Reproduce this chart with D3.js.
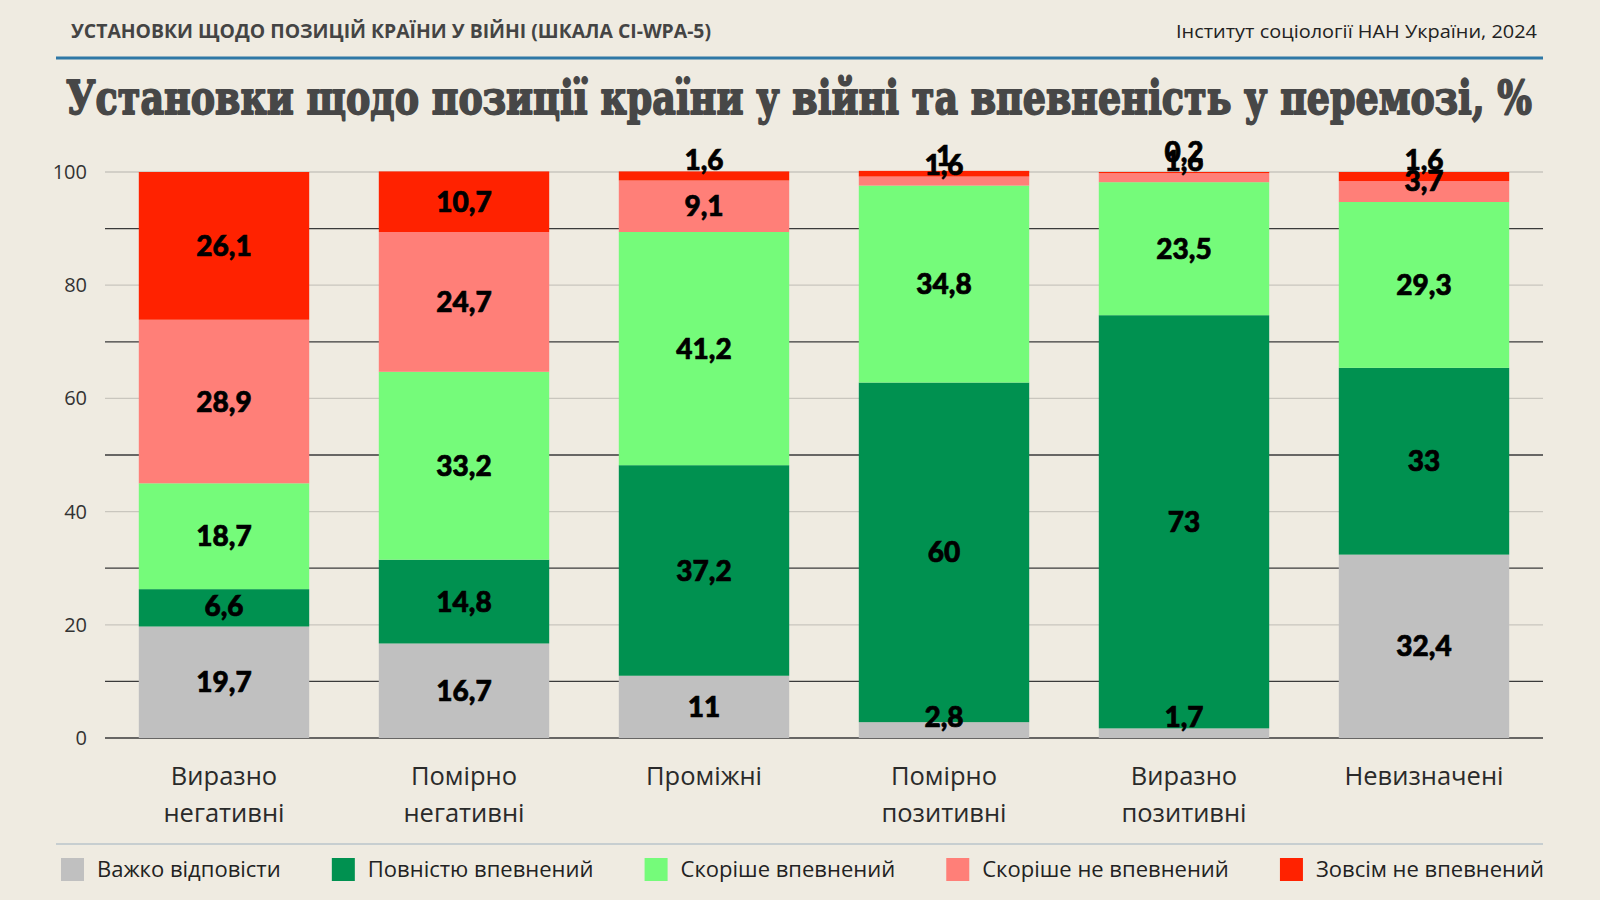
<!DOCTYPE html>
<html>
<head>
<meta charset="utf-8">
<script src="https://cdn.jsdelivr.net/npm/d3@7"></script>
<style>
  html, body { margin: 0; padding: 0; background: #efebe1; }
  svg { display: block; }
</style>
</head>
<body>
<svg id="chart" width="1600" height="900"></svg>
<script>
// data
const categories = ["Виразно негативні", "Помірно негативні", "Проміжні", "Помірно позитивні", "Виразно позитивні", "Невизначені"];
const seriesNames = ["Важко відповісти", "Повністю впевнений", "Скоріше впевнений", "Скоріше не впевнений", "Зовсім не впевнений"];
const hardToSay   = [19.7, 16.7, 11, 2.8, 1.7, 32.4];
const fullySure   = [6.6, 14.8, 37.2, 60, 73, 33];
const ratherSure  = [18.7, 33.2, 41.2, 34.8, 23.5, 29.3];
const ratherNot   = [28.9, 24.7, 9.1, 1.6, 1.6, 3.7];
const notAtAll    = [26.1, 10.7, 1.6, 1, 0.2, 1.6];
const yTicks = [0, 20, 40, 60, 80, 100];

const colors = ["#c0c0c0", "#009150", "#75fb7a", "#ff7f78", "#ff2200"];
const seriesValues = [hardToSay, fullySure, ratherSure, ratherNot, notAtAll];

const svg = d3.select("#chart");
const sans = "'Open Sans', Lato, 'DejaVu Sans', sans-serif";
const heavy = "Lato, 'DejaVu Sans', sans-serif";

// header
svg.append("text")
  .attr("x", 71).attr("y", 38)
  .attr("font-family", "'Open Sans', sans-serif")
  .attr("font-weight", 700)
  .attr("font-size", 19)
  .attr("fill", "#444")
  .attr("textLength", 640).attr("lengthAdjust", "spacingAndGlyphs")
  .text("УСТАНОВКИ ЩОДО ПОЗИЦІЙ КРАЇНИ У ВІЙНІ (ШКАЛА СІ-WPA-5)");

svg.append("text")
  .attr("x", 1537).attr("y", 38)
  .attr("text-anchor", "end")
  .attr("font-family", "'Open Sans', sans-serif")
  .attr("font-size", 19)
  .attr("fill", "#222")
  .attr("textLength", 361).attr("lengthAdjust", "spacingAndGlyphs")
  .text("Інститут соціології НАН України, 2024");

svg.append("line")
  .attr("x1", 56).attr("x2", 1543).attr("y1", 58).attr("y2", 58)
  .attr("stroke", "#2f78a6").attr("stroke-width", 3);

svg.append("text")
  .attr("x", 66).attr("y", 114)
  .attr("font-family", "'DejaVu Serif', serif")
  .attr("font-weight", 700)
  .attr("font-size", 47)
  .attr("fill", "#474747")
  .attr("stroke", "#474747").attr("stroke-width", 1.8)
  .attr("stroke-linejoin", "round")
  .attr("textLength", 1466).attr("lengthAdjust", "spacingAndGlyphs")
  .text("Установки щодо позиції країни у війні та впевненість у перемозі, %");

// scales
const x = d3.scaleBand()
  .domain(categories)
  .range([104, 1544])
  .paddingInner(0.29)
  .paddingOuter(0.145);

const y = d3.scaleLinear().domain([0, 100]).range([738, 172]);

// grid: every 10, odd decades darker
svg.append("g")
  .selectAll("line")
  .data(d3.range(0, 101, 10))
  .join("line")
  .attr("x1", 105).attr("x2", 1543)
  .attr("y1", d => y(d)).attr("y2", d => y(d))
  .attr("stroke", d => (d === 0 || d % 20 === 10) ? "#3a3a3a" : "#c9c6be")
  .attr("stroke-width", 1.3);

// y axis labels
const yAxis = d3.axisLeft(y).tickValues(yTicks).tickSize(0).tickPadding(0);
const yG = svg.append("g").attr("transform", "translate(87,0)").call(yAxis);
yG.select(".domain").remove();
yG.selectAll("text")
  .attr("font-family", sans)
  .attr("font-size", 20)
  .attr("fill", "#333");

// stacked bars
const rows = categories.map((c, i) => {
  const r = { cat: c };
  seriesNames.forEach((s, j) => r[s] = seriesValues[j][i]);
  return r;
});
const stacked = d3.stack().keys(seriesNames)(rows);

svg.append("g")
  .selectAll("g")
  .data(stacked)
  .join("g")
  .attr("fill", (d, i) => colors[i])
  .selectAll("rect")
  .data(d => d)
  .join("rect")
  .attr("x", d => x(d.data.cat))
  .attr("width", x.bandwidth())
  .attr("y", d => y(d[1]))
  .attr("height", d => y(d[0]) - y(d[1]));

// value labels: centred, but small segments lifted so label sits above their base
const fmt = v => String(v).replace(".", ",");
const labels = svg.append("g");
stacked.forEach(layer => {
  layer.forEach(d => {
    const bottom = y(d[0]);
    const mid = (y(d[0]) + y(d[1])) / 2;
    labels.append("text")
      .attr("x", x(d.data.cat) + x.bandwidth() / 2)
      .attr("y", Math.min(mid, bottom - 21))
      .attr("dy", "0.36em")
      .attr("text-anchor", "middle")
      .attr("font-family", heavy)
      .attr("font-weight", 900)
      .attr("font-size", 28)
      .attr("fill", "#000")
      .attr("stroke", "#000").attr("stroke-width", 0.7)
      .text(fmt(d.data[layer.key]));
  });
});

// category labels
const catG = svg.append("g");
categories.forEach(c => {
  const cx = x(c) + x.bandwidth() / 2;
  const t = catG.append("text")
    .attr("x", cx)
    .attr("y", 785)
    .attr("text-anchor", "middle")
    .attr("font-family", sans)
    .attr("font-size", 25.5)
    .attr("fill", "#2a2a2a");
  c.split(" ").forEach((w, i) => {
    t.append("tspan")
      .attr("x", cx)
      .attr("dy", i === 0 ? 0 : 37)
      .text(w);
  });
});

// legend
svg.append("line")
  .attr("x1", 56).attr("x2", 1543).attr("y1", 844).attr("y2", 844)
  .attr("stroke", "#9fb2bf").attr("stroke-width", 1.2);

const legend = svg.append("g");
const items = seriesNames.map((s, i) => {
  const g = legend.append("g");
  g.append("rect").attr("width", 23).attr("height", 23).attr("y", 858).attr("fill", colors[i]);
  const t = g.append("text")
    .attr("x", 36).attr("y", 877)
    .attr("font-family", sans)
    .attr("font-size", 22)
    .attr("fill", "#222")
    .text(s);
  return { g, w: 36 + t.node().getComputedTextLength() };
});
const legLeft = 61, legRight = 1544;
const gap = (legRight - legLeft - d3.sum(items, d => d.w)) / (items.length - 1);
let lx = legLeft;
items.forEach(it => {
  it.g.attr("transform", `translate(${lx},0)`);
  lx += it.w + gap;
});
</script>
</body>
</html>
